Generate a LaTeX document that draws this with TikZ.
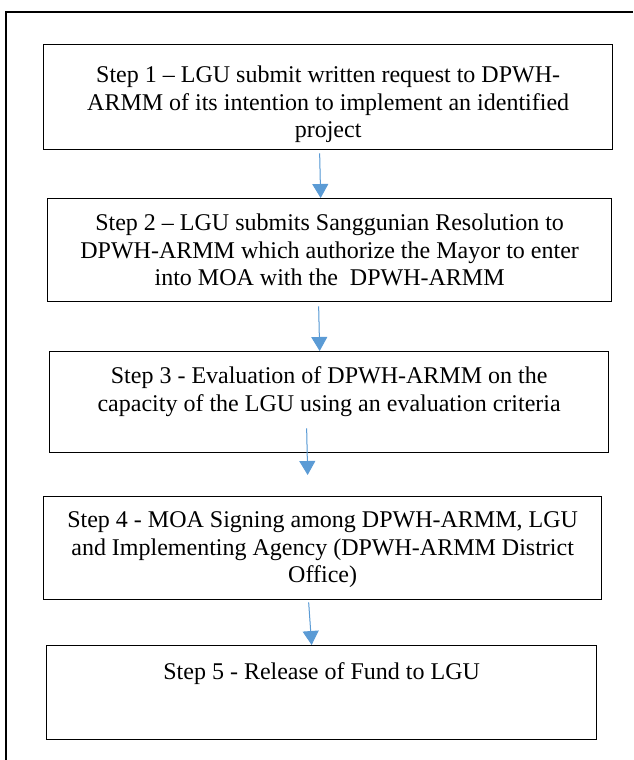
\documentclass[tikz,border=0pt]{standalone}
\usepackage{fontspec}
\setmainfont{Liberation Serif}
\usepackage{tikz}
\usetikzlibrary{arrows.meta, positioning}
\definecolor{arrowblue}{RGB}{91,155,213}
\tikzset{stepbox/.style={draw, line width=1.3pt, inner sep=0pt, anchor=north west},
  steptext/.style={inner sep=0pt, align=center, anchor=north,
    font=\fontsize{24}{27.6}\selectfont},
  flowarrow/.style={draw=arrowblue, line width=1pt,
    -{Triangle[width=16pt,length=14pt]}, fill=arrowblue}
}

\begin{document}
\begin{tikzpicture}[x=1pt, y=-1pt]
  \useasboundingbox (0,0) rectangle (633,760);
  \draw[line width=2pt] (6,760) -- (6,12) -- (633,12);
  % the five steps
  \node[stepbox, minimum width=569pt, minimum height=105pt] (s1) at (43,44) {};
  \node[stepbox, minimum width=564pt, minimum height=103pt] (s2) at (47,198) {};
  \node[stepbox, minimum width=559pt, minimum height=101pt] (s3) at (49,351) {};
  \node[stepbox, minimum width=558pt, minimum height=103pt] (s4) at (43,496) {};
  \node[stepbox, minimum width=550pt, minimum height=94pt] (s5) at (46,645) {};
  \node[steptext, below=21.6pt of s1.north] (t1) {Step 1 – LGU submit written request to DPWH-\\ARMM of its intention to implement an identified\\project};
  \node[steptext, below=15.6pt of s2.north] (t2) {Step 2 – LGU submits Sanggunian Resolution to\\DPWH-ARMM which authorize the Mayor to enter\\into MOA with the\ \ DPWH-ARMM};
  \node[steptext, below=15.6pt of s3.north] (t3) {Step 3 - Evaluation of DPWH-ARMM on the\\capacity of the LGU using an evaluation criteria};
  \node[steptext, below=15.6pt of s4.north] (t4) {Step 4 - MOA Signing among DPWH-ARMM, LGU\\and Implementing Agency (DPWH-ARMM District\\Office)};
  \node[steptext, below=17.6pt of s5.north] (t5) {Step 5 - Release of Fund to LGU};
  % arrows
  \draw[flowarrow] ([xshift=-8.5pt,yshift=-3pt]s1.south) -- ([xshift=-9pt]s2.north);
  \draw[flowarrow] ([xshift=-11pt,yshift=-4pt]s2.south) -- ([xshift=-9.5pt]s3.north);
  \draw[flowarrow] ([xshift=-22.5pt,yshift=25pt]s3.south) -- ([xshift=-15pt,yshift=21pt]s4.north);
  \draw[flowarrow] ([xshift=-14pt,yshift=-2pt]s4.south) -- ([xshift=-10pt]s5.north);
\end{tikzpicture}
\end{document}
